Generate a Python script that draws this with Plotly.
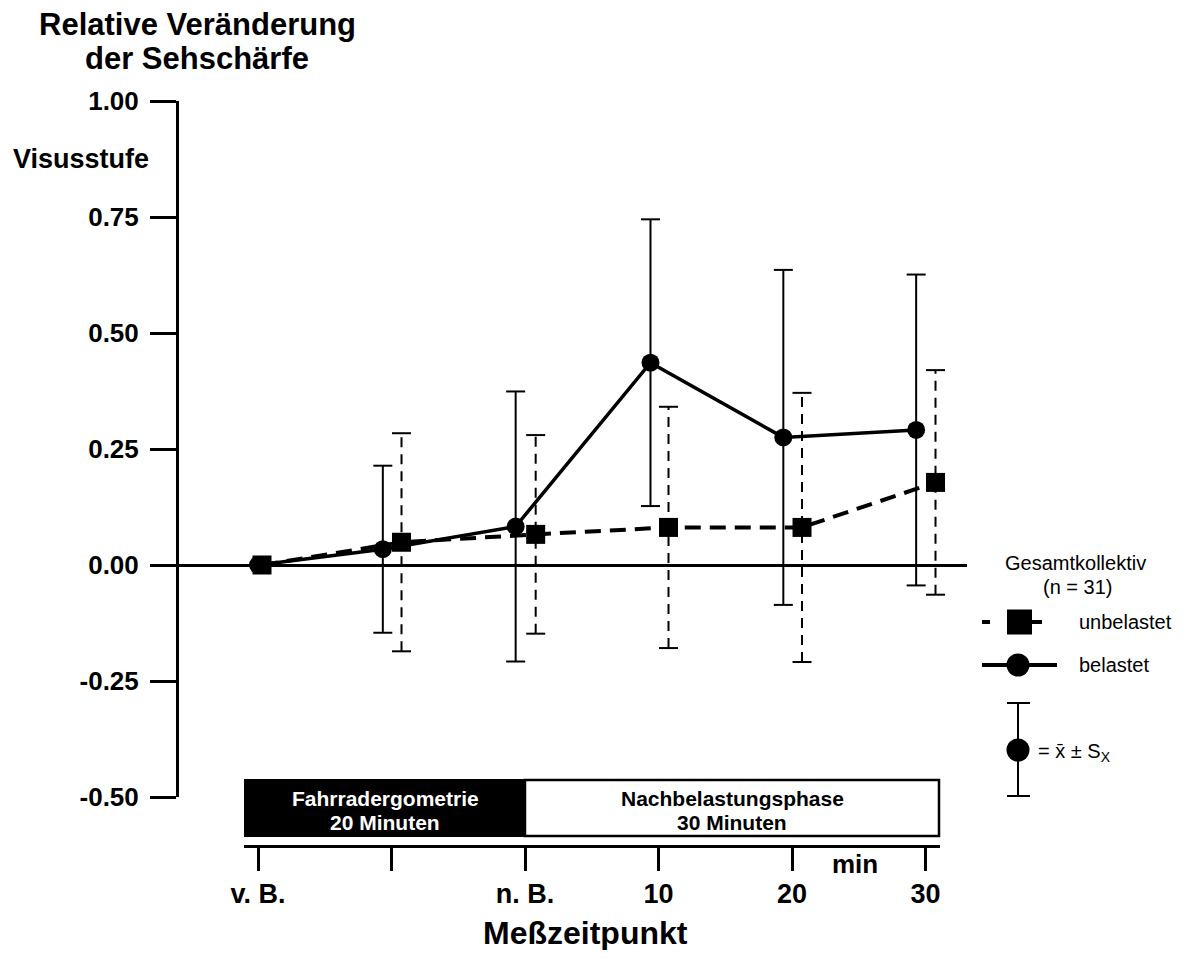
import plotly.graph_objects as go

# ---------------- data ----------------
time_labels = ["v. B.", "", "n. B.", "10", "20", "30"]
time_index = [0, 1, 2, 3, 4, 5]

belastet_mean = [0.0, 0.034, 0.083, 0.436, 0.275, 0.291]
belastet_sd = [0.0, 0.180, 0.291, 0.309, 0.361, 0.335]

unbelastet_mean = [0.0, 0.049, 0.066, 0.081, 0.081, 0.178]
unbelastet_sd = [0.0, 0.235, 0.214, 0.260, 0.290, 0.242]

y_ticks = [-0.5, -0.25, 0.0, 0.25, 0.5, 0.75, 1.0]
y_ticktext = ["-0.50", "-0.25", "0.00", "0.25", "0.50", "0.75", "1.00"]

# small horizontal dodge of the two series around each time point (layout)
dodge_belastet = [0.0, -0.065, -0.07, -0.06, -0.065, -0.07]
dodge_unbelastet = [0.03, 0.075, 0.08, 0.075, 0.075, 0.075]

# ---------------- layout helpers ----------------
BODY = 8                      # default page margin around the plot div
W, H = 1187 - 2 * BODY, 958 - 2 * BODY
# screen-pixel geometry
AX_X = 179                    # y-axis line
PAPER_R = 1160
AX_TOP = 101
X_AX_Y = 846                  # bottom time axis line
ML = AX_X - BODY
MT = AX_TOP - BODY
MR = W - (PAPER_R - BODY)
MB = H - (X_AX_Y - BODY)
PW = W - ML - MR
PH = H - MT - MB
FONT = "Liberation Sans, Arial, Helvetica, sans-serif"


def px(x):
    """screen pixel x -> paper fraction"""
    return (x - BODY - ML) / PW


def py(y):
    """screen pixel y -> paper fraction"""
    return (H - MB - (y - BODY)) / PH


STEP = 133.5      # pixel spacing of the time points
X0PIX = 258       # screen pixel of first time point

xb = [i + d for i, d in zip(time_index, dodge_belastet)]
xu = [i + d for i, d in zip(time_index, dodge_unbelastet)]

fig = go.Figure()


def errbar_traces(xs, means, sds, dash, cap_half):
    vx, vy, cx, cy = [], [], [], []
    for x, m, s in zip(xs, means, sds):
        if s <= 0:
            continue
        vx += [x, x, None]
        vy += [m - s, m + s, None]
        for yy in (m - s, m + s):
            cx += [x - cap_half, x + cap_half, None]
            cy += [yy, yy, None]
    fig.add_trace(go.Scatter(x=vx, y=vy, mode="lines", showlegend=False,
                             line=dict(color="black", width=2, dash=dash),
                             hoverinfo="skip", cliponaxis=False))
    fig.add_trace(go.Scatter(x=cx, y=cy, mode="lines", showlegend=False,
                             line=dict(color="black", width=2),
                             hoverinfo="skip", cliponaxis=False))


cap = 9.5 / STEP
errbar_traces(xu, unbelastet_mean, unbelastet_sd, "10px,7px", cap)
errbar_traces(xb, belastet_mean, belastet_sd, "solid", cap)

fig.add_trace(go.Scatter(
    x=xu, y=unbelastet_mean, mode="lines+markers", name="unbelastet",
    line=dict(color="black", width=4, dash="16px,9px"),
    marker=dict(symbol="square", size=19, color="black"),
    showlegend=False, cliponaxis=False))
fig.add_trace(go.Scatter(
    x=xb, y=belastet_mean, mode="lines+markers", name="belastet",
    line=dict(color="black", width=3.5),
    marker=dict(symbol="circle", size=18, color="black"),
    showlegend=False, cliponaxis=False))

# invisible trace to realise the bottom time axis
fig.add_trace(go.Scatter(x=time_index, y=[None] * 6, xaxis="x2", yaxis="y",
                         mode="markers", showlegend=False, hoverinfo="skip"))

# ---------- legend glyphs on a pixel-scaled helper axis ----------
LX0, LX1 = 970, 1160
leg_kw = dict(xaxis="x3", yaxis="y3", showlegend=False, hoverinfo="skip",
              cliponaxis=False)
fig.add_trace(go.Scatter(x=[982, 1042], y=[622, 622], mode="lines",
                         line=dict(color="black", width=4, dash="8px,17px,40px"),
                         **leg_kw))
fig.add_trace(go.Scatter(x=[1019.5], y=[622], mode="markers",
                         marker=dict(symbol="square", size=25, color="black"),
                         **leg_kw))
fig.add_trace(go.Scatter(x=[982, 1057], y=[665, 665], mode="lines",
                         line=dict(color="black", width=4), **leg_kw))
fig.add_trace(go.Scatter(x=[1018], y=[665], mode="markers",
                         marker=dict(symbol="circle", size=23, color="black"),
                         **leg_kw))
fig.add_trace(go.Scatter(x=[1018, 1018, None, 1007, 1030, None, 1007, 1030],
                         y=[703, 796, None, 703, 703, None, 796, 796],
                         mode="lines", line=dict(color="black", width=2),
                         **leg_kw))
fig.add_trace(go.Scatter(x=[1018], y=[750], mode="markers",
                         marker=dict(symbol="circle", size=23, color="black"),
                         **leg_kw))

# ---------- timeline bar ----------
shapes = [
    dict(type="rect", xref="paper", yref="paper",
         x0=px(245), x1=px(525), y0=py(836), y1=py(780),
         fillcolor="black", line=dict(color="black", width=2)),
    dict(type="rect", xref="paper", yref="paper",
         x0=px(525), x1=px(939), y0=py(836), y1=py(780),
         fillcolor="white", line=dict(color="black", width=2.5)),
]


def ann(text, x, y, size, color="black", bold=True, anchor="center"):
    f = dict(family=FONT, size=size, color=color)
    if bold:
        f["weight"] = "bold"
    return dict(text=text, x=px(x), y=py(y), xref="paper", yref="paper",
                showarrow=False, xanchor=anchor, yanchor="middle", font=f)


annotations = [
    ann("Relative Veränderung", 197, 24, 31),
    ann("der Sehschärfe", 197, 59, 31),
    ann("Visusstufe", 81, 159, 27),
    ann("Meßzeitpunkt", 585, 933, 32),
    ann("min", 855, 864, 26),
    ann("Fahrradergometrie", 385, 798, 21, color="white"),
    ann("20 Minuten", 385, 822, 21, color="white"),
    ann("Nachbelastungsphase", 732, 798, 21),
    ann("30 Minuten", 732, 822, 21),
    ann("Gesamtkollektiv", 1075, 563, 20, bold=False),
    ann("(n = 31)", 1077, 587, 20, bold=False),
    ann("unbelastet", 1077, 622, 20, bold=False, anchor="left"),
    ann("belastet", 1077, 665, 20, bold=False, anchor="left"),
    ann("= x\u0304 ± S<sub>X</sub>", 1036, 752, 20, bold=False, anchor="left"),
]

fig.update_layout(
    width=W, height=H,
    margin=dict(l=ML, r=MR, t=MT, b=MB, pad=0),
    paper_bgcolor="white", plot_bgcolor="rgba(0,0,0,0)",
    showlegend=False,
    font=dict(family=FONT, color="black"),
    xaxis=dict(domain=[0, px(967)],
               range=[(AX_X - X0PIX) / STEP, (967 - X0PIX) / STEP],
               visible=False, fixedrange=True),
    xaxis2=dict(domain=[px(244), px(940)],
                range=[(244 - X0PIX) / STEP, (940 - X0PIX) / STEP],
                anchor="free", position=0,
                showline=True, linecolor="black", linewidth=3,
                ticks="outside", ticklen=23, tickwidth=3, tickcolor="black",
                tickvals=time_index, ticktext=time_labels,
                tickfont=dict(family=FONT, size=27, color="black",
                              weight="bold"),
                showgrid=False, zeroline=False, fixedrange=True),
    yaxis=dict(domain=[py(797), 1], range=[-0.5, 1.0],
               showline=True, linecolor="black", linewidth=3,
               ticks="outside", ticklen=26, tickwidth=3, tickcolor="black",
               tickvals=y_ticks, ticktext=y_ticktext,
               tickfont=dict(family=FONT, size=26, color="black",
                             weight="bold"),
               ticklabelstandoff=6,
               showgrid=False, zeroline=True, zerolinecolor="black",
               zerolinewidth=3, fixedrange=True),
    xaxis3=dict(domain=[px(LX0), px(LX1)], range=[LX0, LX1], visible=False,
                fixedrange=True, anchor="y3"),
    yaxis3=dict(domain=[0, 1], range=[X_AX_Y, AX_TOP], visible=False,
                fixedrange=True, anchor="x3"),
    shapes=shapes,
    annotations=annotations,
)

fig.write_html("out.html")
